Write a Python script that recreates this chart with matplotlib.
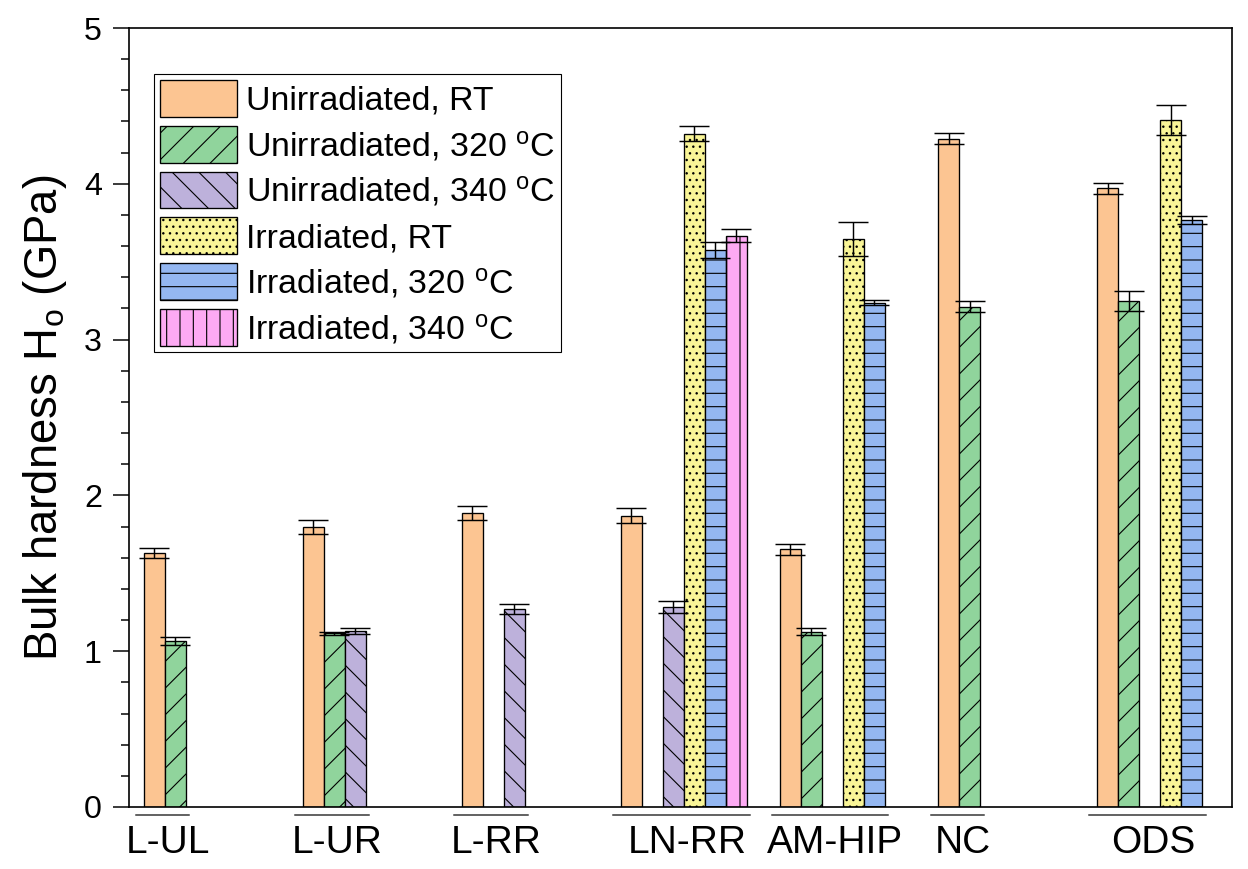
import numpy as np
import matplotlib
matplotlib.use("Agg")
import matplotlib.pyplot as plt
import matplotlib.transforms as mtransforms

plt.rcParams['font.family'] = ['Liberation Sans', 'DejaVu Sans']
plt.rcParams['mathtext.fontset'] = 'custom'
plt.rcParams['mathtext.rm'] = 'Liberation Sans'
plt.rcParams['mathtext.it'] = 'Liberation Sans:italic'
plt.rcParams['hatch.linewidth'] = 1.0

# sample groups along the x axis
groups = ["L-UL", "L-UR", "L-RR", "LN-RR", "AM-HIP", "NC", "ODS"]
nan = np.nan

# bulk hardness (GPa) and error for each condition, one value per group
unirr_rt = [1.63, 1.80, 1.885, 1.87, 1.655, 4.29, 3.97]
unirr_rt_err = [0.03, 0.045, 0.045, 0.05, 0.035, 0.035, 0.035]
unirr_320 = [1.065, 1.115, nan, nan, 1.125, 3.21, 3.25]
unirr_320_err = [0.025, 0.01, nan, nan, 0.023, 0.035, 0.065]
unirr_340 = [nan, 1.13, 1.27, 1.285, nan, nan, nan]
unirr_340_err = [nan, 0.02, 0.03, 0.04, nan, nan, nan]
irr_rt = [nan, nan, nan, 4.32, 3.645, nan, 4.41]
irr_rt_err = [nan, nan, nan, 0.048, 0.108, nan, 0.098]
irr_320 = [nan, nan, nan, 3.575, 3.237, nan, 3.768]
irr_320_err = [nan, nan, nan, 0.053, 0.016, nan, 0.026]
irr_340 = [nan, nan, nan, 3.667, nan, nan, nan]
irr_340_err = [nan, nan, nan, 0.043, nan, nan, nan]

series = [
    (r"Unirradiated, RT", unirr_rt, unirr_rt_err, "#FCC592", ""),
    (r"Unirradiated, 320 $^{\rm o}$C", unirr_320, unirr_320_err, "#90D49C", "/"),
    (r"Unirradiated, 340 $^{\rm o}$C", unirr_340, unirr_340_err, "#BDB1DB", "\\"),
    (r"Irradiated, RT", irr_rt, irr_rt_err, "#F9F597", ".."),
    (r"Irradiated, 320 $^{\rm o}$C", irr_320, irr_320_err, "#94B7F1", "-"),
    (r"Irradiated, 340 $^{\rm o}$C", irr_340, irr_340_err, "#FDAAF3", "|"),
]

w = 0.1322  # width of one bar slot, group spacing is 1
x0 = np.arange(len(groups))

fig = plt.figure(figsize=(15.6, 10.8625), dpi=80)
ax = fig.add_axes([129 / 1248, 1 - 807 / 869, 1103 / 1248, 779 / 869])

for k, (label, vals, errs, color, hatch) in enumerate(series):
    x = x0 + k * w
    ax.bar(x, vals, width=w, color=color, edgecolor="black", linewidth=1.2,
           hatch=hatch, label=label, zorder=2)
    ax.errorbar(x, vals, yerr=errs, fmt="none", ecolor="black", elinewidth=1.3,
                capsize=13.5, capthick=1.3, zorder=3)

ax.set_xlim(-0.160, 6.781)
ax.set_ylim(0, 5)
ax.set_xticks([])
ax.set_yticks([0, 1, 2, 3, 4, 5])
ax.set_yticks(np.arange(0, 5.01, 0.2), minor=True)
ax.tick_params(axis="y", which="major", direction="out", length=14.4, width=1.35,
               labelsize=29, pad=10)
ax.tick_params(axis="y", which="minor", direction="out", length=7.2, width=1.35)
for sp in ax.spines.values():
    sp.set_linewidth(1.5)

ax.set_ylabel(r"Bulk hardness H$_{\rm o}$ (GPa)", fontsize=41, labelpad=13)

# group labels with a short line over each one
trans = mtransforms.blended_transform_factory(ax.transData, ax.transAxes)
for i, name in enumerate(groups):
    used = [k for k, s in enumerate(series) if not np.isnan(s[1][i])]
    left = i + min(used) * w - w / 2 - 0.05
    right = i + max(used) * w + w / 2 + 0.02
    ax.plot([left, right], [-0.0103, -0.0103], color="#333333", lw=1.35,
            transform=trans, clip_on=False)
    ax.text((left + right) / 2 + 0.035, -0.046, name, transform=trans,
            ha="center", va="center", fontsize=35)

leg = ax.legend(loc="upper left", bbox_to_anchor=(0.0227, 0.941), borderaxespad=0,
                fontsize=30.5, handlelength=2.27, handleheight=1.3, handletextpad=0.25,
                labelspacing=0.26, borderpad=0.18, fancybox=False, framealpha=1,
                edgecolor="black")
leg.get_frame().set_linewidth(1.0)

fig.savefig("out.png", dpi=80)
